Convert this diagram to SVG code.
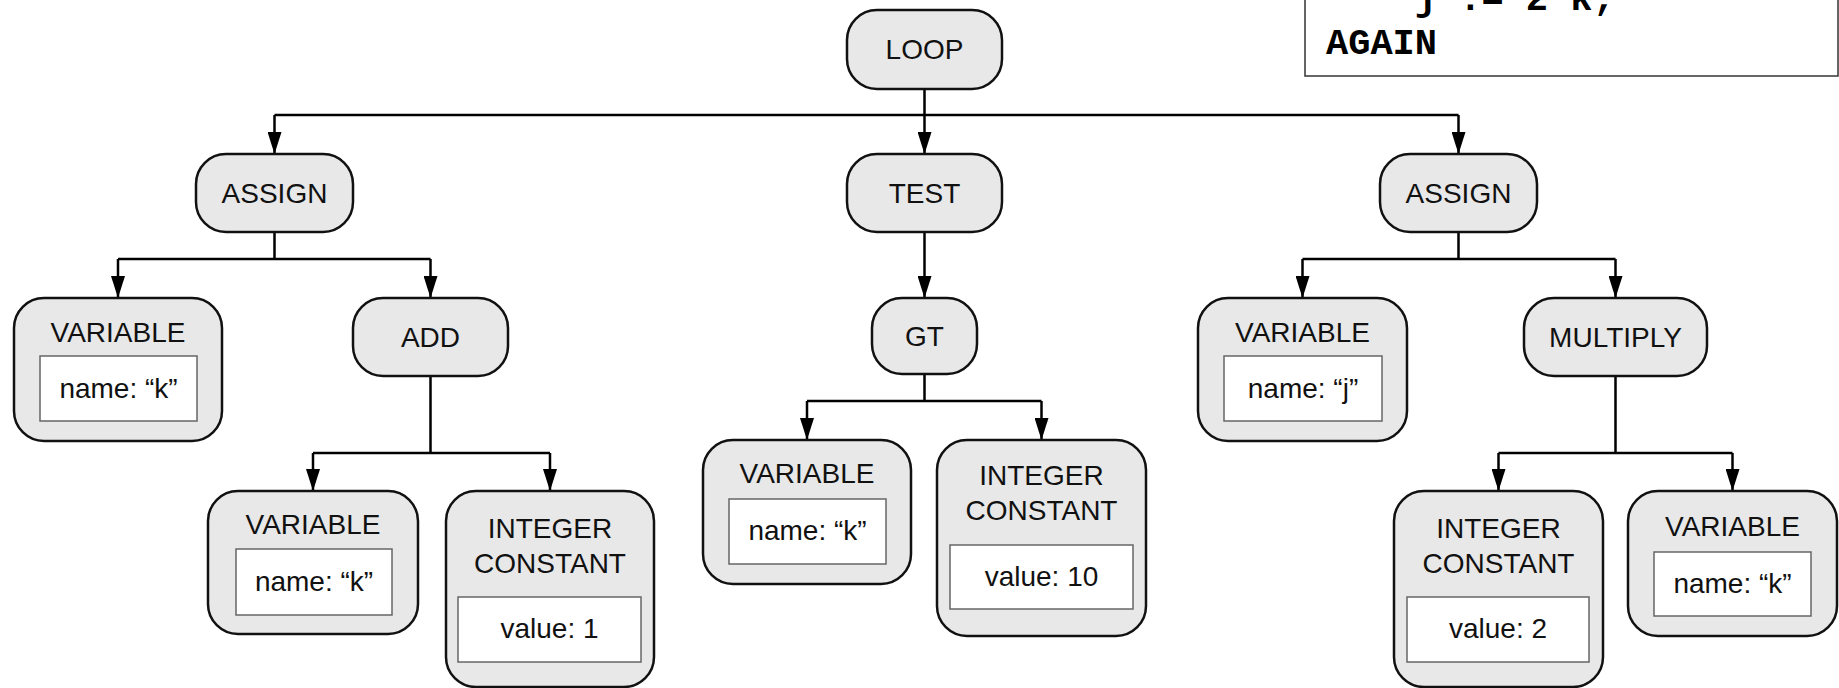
<svg xmlns="http://www.w3.org/2000/svg" width="1839" height="688" viewBox="0 0 1839 688">
<style>
.n{fill:#e8e8e8;stroke:#111;stroke-width:2.5}
.in{fill:#fff;stroke:#666;stroke-width:1.5}
.t{font-family:"Liberation Sans",Arial,sans-serif;font-size:28px;fill:#111;text-anchor:middle}
.c{fill:none;stroke:#000;stroke-width:2.5}
.code{font-family:"Liberation Mono","Courier New",monospace;font-size:37px;font-weight:bold;fill:#000}
</style>
<defs>
<marker id="ah" markerUnits="userSpaceOnUse" markerWidth="22" markerHeight="14" refX="22" refY="7" orient="auto">
<path d="M0,0 L22,7 L0,14 z" fill="#000"/>
</marker>
</defs>
<rect width="1839" height="688" fill="#fff"/>

<g id="code">
<rect x="1305" y="-5" width="533" height="81" fill="#fff" stroke="#333" stroke-width="1.5"/>
<text class="code" x="1326" y="10" xml:space="preserve">    j := 2*k;</text>
<text class="code" x="1326" y="54">AGAIN</text>
</g>

<g id="connectors">
<path class="c" d="M924.5,89 V115 M274.5,115 H1458.5"/>
<path class="c" d="M274.5,115 V154" marker-end="url(#ah)"/>
<path class="c" d="M924.5,115 V154" marker-end="url(#ah)"/>
<path class="c" d="M1458.5,115 V154" marker-end="url(#ah)"/>
<path class="c" d="M274.5,232 V259 M118,259 H430.5"/>
<path class="c" d="M118,259 V298" marker-end="url(#ah)"/>
<path class="c" d="M430.5,259 V298" marker-end="url(#ah)"/>
<path class="c" d="M430.5,377 V453 M313,453 H550"/>
<path class="c" d="M313,453 V491" marker-end="url(#ah)"/>
<path class="c" d="M550,453 V491" marker-end="url(#ah)"/>
<path class="c" d="M924.5,232 V298" marker-end="url(#ah)"/>
<path class="c" d="M924.5,375 V401 M807,401 H1041.5"/>
<path class="c" d="M807,401 V440" marker-end="url(#ah)"/>
<path class="c" d="M1041.5,401 V440" marker-end="url(#ah)"/>
<path class="c" d="M1458.5,232 V259 M1302.5,259 H1615.5"/>
<path class="c" d="M1302.5,259 V298" marker-end="url(#ah)"/>
<path class="c" d="M1615.5,259 V298" marker-end="url(#ah)"/>
<path class="c" d="M1615.5,377 V453 M1498.5,453 H1732.5"/>
<path class="c" d="M1498.5,453 V491" marker-end="url(#ah)"/>
<path class="c" d="M1732.5,453 V491" marker-end="url(#ah)"/>
</g>

<g id="loop"><rect class="n" x="847" y="10" width="155" height="79" rx="30"/><text class="t" x="924.5" y="59">LOOP</text></g>

<g id="assign1"><rect class="n" x="196" y="154" width="157" height="78" rx="30"/><text class="t" x="274.5" y="203">ASSIGN</text></g>
<g id="test"><rect class="n" x="847" y="154" width="155" height="78" rx="30"/><text class="t" x="924.5" y="203">TEST</text></g>
<g id="assign2"><rect class="n" x="1380" y="154" width="157" height="78" rx="30"/><text class="t" x="1458.5" y="203">ASSIGN</text></g>

<g id="var1"><rect class="n" x="14" y="298" width="208" height="143" rx="30"/><text class="t" x="118" y="342">VARIABLE</text>
<rect class="in" x="40" y="356" width="157" height="65"/><text class="t" x="118.5" y="398">name: “k”</text></g>
<g id="add"><rect class="n" x="353" y="298" width="155" height="78" rx="30"/><text class="t" x="430.5" y="347">ADD</text></g>
<g id="gt"><rect class="n" x="872" y="298" width="105" height="76" rx="30"/><text class="t" x="924.5" y="346">GT</text></g>
<g id="var2"><rect class="n" x="1198" y="298" width="209" height="143" rx="30"/><text class="t" x="1302.5" y="342">VARIABLE</text>
<rect class="in" x="1224" y="356" width="158" height="65"/><text class="t" x="1303" y="398">name: “j”</text></g>
<g id="multiply"><rect class="n" x="1524" y="298" width="183" height="78" rx="30"/><text class="t" x="1615.5" y="347">MULTIPLY</text></g>

<g id="var3"><rect class="n" x="208" y="491" width="210" height="143" rx="30"/><text class="t" x="313" y="534">VARIABLE</text>
<rect class="in" x="236" y="549" width="156" height="66"/><text class="t" x="314" y="591">name: “k”</text></g>
<g id="int1"><rect class="n" x="446" y="491" width="208" height="196" rx="30"/><text class="t" x="550" y="538">INTEGER</text><text class="t" x="550" y="573">CONSTANT</text>
<rect class="in" x="458" y="597" width="183" height="65"/><text class="t" x="549.5" y="638">value: 1</text></g>

<g id="var4"><rect class="n" x="703" y="440" width="208" height="144" rx="30"/><text class="t" x="807" y="483">VARIABLE</text>
<rect class="in" x="729" y="499" width="157" height="65"/><text class="t" x="807.5" y="540">name: “k”</text></g>
<g id="int2"><rect class="n" x="937" y="440" width="209" height="196" rx="30"/><text class="t" x="1041.5" y="485">INTEGER</text><text class="t" x="1041.5" y="520">CONSTANT</text>
<rect class="in" x="950" y="545" width="183" height="64"/><text class="t" x="1041.5" y="586">value: 10</text></g>

<g id="int3"><rect class="n" x="1394" y="491" width="209" height="196" rx="30"/><text class="t" x="1498.5" y="538">INTEGER</text><text class="t" x="1498.5" y="573">CONSTANT</text>
<rect class="in" x="1407" y="597" width="182" height="65"/><text class="t" x="1498" y="638">value: 2</text></g>
<g id="var5"><rect class="n" x="1628" y="491" width="209" height="145" rx="30"/><text class="t" x="1732.5" y="536">VARIABLE</text>
<rect class="in" x="1654" y="552" width="157" height="64"/><text class="t" x="1732.5" y="593">name: “k”</text></g>
</svg>
